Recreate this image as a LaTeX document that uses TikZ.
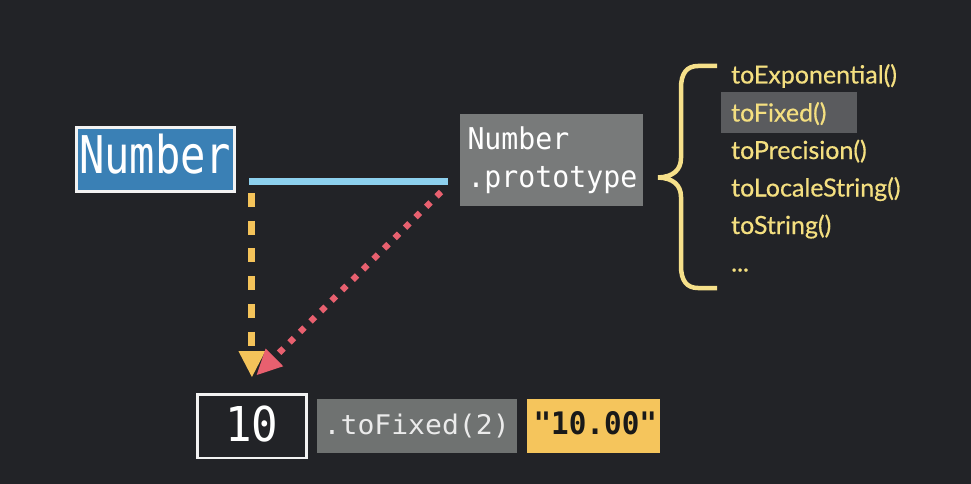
\documentclass[tikz,border=0pt]{standalone}
\usepackage{fontspec}
\usepackage{graphicx}
\usetikzlibrary{arrows.meta}
\newfontfamily\codefont{DejaVu Sans Mono}
\newfontfamily\listfont{Lato}[FakeBold=0.5]
\newcommand\xstretch[2]{\scalebox{#1}[1]{#2}}

\definecolor{bgdark}{HTML}{222327}
\definecolor{numblue}{HTML}{3A80B5}
\definecolor{framewhite}{HTML}{F2F2F2}
\definecolor{linkblue}{HTML}{8DD0EE}
\definecolor{dashyellow}{HTML}{F4C35A}
\definecolor{dotred}{HTML}{E8606F}
\definecolor{protogray}{HTML}{787A7A}
\definecolor{callgray}{HTML}{6F7271}
\definecolor{resyellow}{HTML}{F5C55C}
\definecolor{listyellow}{HTML}{F4DF80}
\definecolor{braceyellow}{HTML}{F6E08A}
\definecolor{hlgray}{HTML}{5A5B5E}

\tikzset{
  numbox/.style={draw=framewhite, line width=3pt, fill=numblue, inner sep=0pt,
    text=white, font=\codefont\fontsize{52pt}{52pt}\selectfont},
  valbox/.style={draw=framewhite, line width=2.5pt, inner sep=0pt,
    text=white, font=\codefont\fontsize{48pt}{48pt}\selectfont},
  protobox/.style={fill=protogray, inner sep=0pt, text=white,
    font=\codefont\fontsize{30pt}{38.3pt}\selectfont},
  callbox/.style={fill=callgray, inner sep=0pt, text=white!92!black,
    font=\codefont\fontsize{27pt}{27pt}\selectfont},
  resbox/.style={fill=resyellow, inner sep=0pt, text=black!90,
    font=\codefont\bfseries\fontsize{31pt}{31pt}\selectfont},
  member/.style={anchor=base west, inner sep=0pt, text=listyellow,
    font=\listfont\fontsize{25pt}{25pt}\selectfont},
  link/.style={linkblue, line width=6.5pt},
  ownarrow/.style={dashyellow, line width=7pt, dash pattern=on 14pt off 13.7pt,
    -{Triangle[width=27pt,length=26pt,line width=0pt]}},
  protoarrow/.style={dotred, line width=6.2pt, dash pattern=on 6.2pt off 8.6pt,
    -{Triangle[width=25pt,length=25pt,line width=0pt]}},
  bracestyle/.style={braceyellow, line width=4.5pt, line cap=butt},
}

\begin{document}
\begin{tikzpicture}[x=1pt,y=-1pt]
  \fill[bgdark] (0,0) rectangle (971,484);
  \useasboundingbox (0,0) rectangle (971,484);

  % constructor and its prototype object
  \node[numbox, minimum width=158pt, minimum height=63.7pt,
        text height=34pt, text depth=6.2pt] (num) at (155.2,159.4)
        {\xstretch{0.81}{Number}};
  \node[protobox, minimum width=183pt, minimum height=91.7pt,
        text width=168pt, align=left] (proto) at (551.5,159.9)
        {\xstretch{0.94}{Number}\\\xstretch{0.94}{.prototype}};

  % link between the two
  \coordinate (linkL) at (249,181.5);
  \coordinate (linkR) at (448,181.5);
  \draw[link] (linkL) -- (linkR);

  % primitive value, method call and result
  \node[valbox, minimum width=109.2pt, minimum height=63.5pt,
        text height=36pt, text depth=4.6pt] (ten) at (251.9,426)
        {\xstretch{0.92}{10}};
  \node[callbox, minimum width=200pt, minimum height=53.7pt,
        text height=24pt, text depth=7.2pt] (call) at (416.7,425.9)
        {\xstretch{1.04}{.toFixed(2)}};
  \node[resbox, minimum width=133.3pt, minimum height=54pt,
        text height=24pt, text depth=7.4pt] (res) at (593.3,426)
        {\hspace*{4pt}\xstretch{0.945}{"10.00"}};

  % arrows into the value
  \coordinate (ownStart) at (251.9,193);
  \draw[ownarrow] (ownStart) -- ([yshift=16pt]ten.north);
  \coordinate (protoStart) at (441,192);
  \coordinate (protoTip) at (256.7,375);
  \draw[protoarrow] (protoStart) -- (protoTip);

  % brace listing the prototype methods
  \draw[bracestyle] (717,66) -- (698,66)
    .. controls (687,66) and (681,73) .. (681,88) -- (681,158)
    .. controls (681,170) and (673,177) .. (658,177.5)
    .. controls (673,178) and (681,185) .. (681,197) -- (681,266)
    .. controls (681,281) and (687,288) .. (698,288) -- (717,288);

  \fill[hlgray] (720.7,92) rectangle (856.7,133.3);
  \node[member] (m1) at (731,83.5) {toExponential()};
  \node[member] (m2) at (731,121.5) {toFixed()};
  \node[member] (m3) at (731,159) {toPrecision()};
  \node[member] (m4) at (731,196.5) {toLocaleString()};
  \node[member] (m5) at (731,234) {toString()};
  \node[member] (m6) at (731,271.5) {...};
\end{tikzpicture}
\end{document}
